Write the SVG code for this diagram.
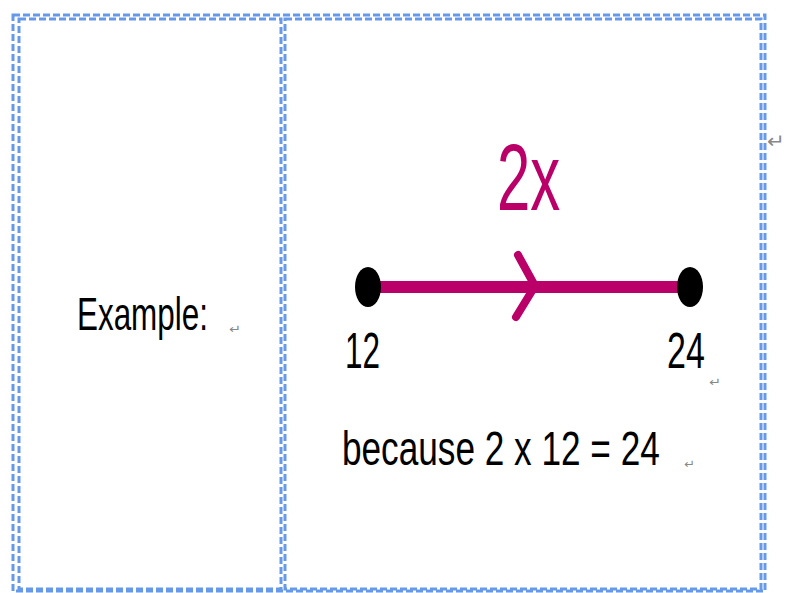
<svg xmlns="http://www.w3.org/2000/svg" width="787" height="593" viewBox="0 0 787 593">
<style>
.bd{fill:none;stroke:#6699E8;stroke-width:3;stroke-dasharray:7 3}
.t{font-family:"Liberation Sans",Arial,sans-serif;fill:#000}
.pm{font-family:"DejaVu Sans",sans-serif;fill:#888}
.mg{stroke:#BA0068;fill:none}
</style>
<rect width="787" height="593" fill="#fff"/>
<g id="table">
<rect class="bd" x="13" y="15" width="752" height="576"/>
<rect class="bd" x="19" y="19" width="262" height="570"/>
<rect class="bd" x="285" y="19" width="476" height="570"/>
</g>
<g id="label-cell">
<text class="t" transform="translate(77,330) scale(0.683,1)" font-size="46">Example:</text>
<text class="pm" x="229" y="333" font-size="12" textLength="12" lengthAdjust="spacingAndGlyphs">↵</text>
</g>
<g id="connectors">
<line class="mg" x1="370" y1="287" x2="690" y2="287" stroke-width="12"/>
<polyline class="mg" points="518,255 535,286 516,317" stroke-width="8" stroke-linecap="round" stroke-linejoin="round"/>
</g>
<g id="operator">
<text transform="translate(497,210) scale(0.63,1)" font-size="95" font-family="Liberation Sans,Arial,sans-serif" fill="#BA0068">2x</text>
</g>
<g id="node-12">
<ellipse cx="368" cy="287" rx="13" ry="20" fill="#000"/>
<text class="t" transform="translate(345,368) scale(0.63,1)" font-size="50">12</text>
</g>
<g id="node-24">
<ellipse cx="690" cy="287" rx="13" ry="20" fill="#000"/>
<text class="t" transform="translate(667,368) scale(0.68,1)" font-size="50">24</text>
<text class="pm" x="709" y="386" font-size="12" textLength="12" lengthAdjust="spacingAndGlyphs">↵</text>
</g>
<g id="explanation">
<text class="t" transform="translate(342,465) scale(0.718,1)" font-size="49">because 2 x 12 = 24</text>
<text class="pm" x="684" y="468" font-size="12" textLength="11" lengthAdjust="spacingAndGlyphs">↵</text>
</g>
<text class="pm" x="767" y="148" font-size="20" textLength="18" lengthAdjust="spacingAndGlyphs">↵</text>
</svg>
